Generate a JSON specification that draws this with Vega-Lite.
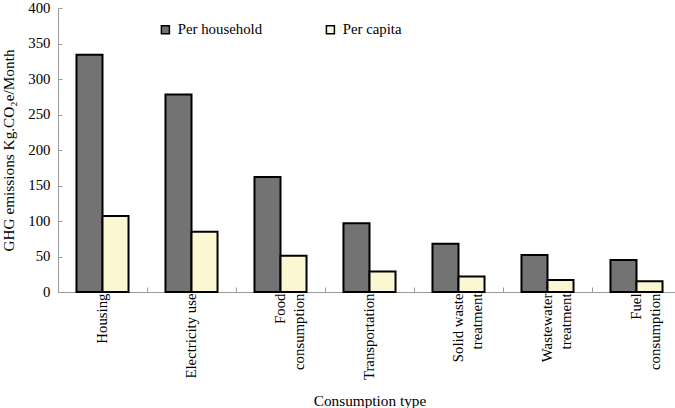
{
  "$schema": "https://vega.github.io/schema/vega-lite/v6.json",
  "width": 617,
  "height": 284,
  "autosize": {"type": "none"},
  "padding": {"left": 58, "top": 8, "right": 0, "bottom": 116},
  "background": "white",
  "config": {
    "font": "Liberation Serif",
    "view": {"stroke": null},
    "axis": {
      "domainColor": "#9a9a9a",
      "tickColor": "#9a9a9a",
      "labelColor": "black",
      "titleColor": "black",
      "labelFont": "Liberation Serif",
      "titleFont": "Liberation Serif",
      "labelFontSize": 14.8,
      "titleFontSize": 15.3,
      "titleFontWeight": "normal",
      "grid": false
    },
    "legend": {
      "labelFont": "Liberation Serif",
      "labelFontSize": 14.8,
      "labelColor": "black"
    }
  },
  "data": {
    "values": [
      {"type": "Housing", "series": "Per household", "value": 334},
      {"type": "Housing", "series": "Per capita", "value": 107},
      {"type": "Electricity use", "series": "Per household", "value": 278},
      {"type": "Electricity use", "series": "Per capita", "value": 85},
      {"type": "Food consumption", "series": "Per household", "value": 162},
      {"type": "Food consumption", "series": "Per capita", "value": 51},
      {"type": "Transportation", "series": "Per household", "value": 97},
      {"type": "Transportation", "series": "Per capita", "value": 29},
      {"type": "Solid waste treatment", "series": "Per household", "value": 68},
      {"type": "Solid waste treatment", "series": "Per capita", "value": 22},
      {"type": "Wastewater treatment", "series": "Per household", "value": 52},
      {"type": "Wastewater treatment", "series": "Per capita", "value": 17},
      {"type": "Fuel consumption", "series": "Per household", "value": 45},
      {"type": "Fuel consumption", "series": "Per capita", "value": 15}
    ]
  },
  "mark": {"type": "bar", "stroke": "black", "strokeWidth": 2},
  "encoding": {
    "x": {
      "field": "type",
      "type": "nominal",
      "sort": null,
      "scale": {"range": [0, 623], "paddingInner": 0, "paddingOuter": 0},
      "axis": {
        "title": "Consumption type",
        "titlePadding": 14,
        "labelAngle": -90,
        "labelAlign": "right",
        "labelBaseline": "middle",
        "labelLineHeight": 19,
        "labelPadding": 6,
        "tickBand": "extent",
        "tickSize": -5,
        "labelExpr": "datum.label == 'Food consumption' ? ['Food\u00a0\u00a0\u00a0\u00a0\u00a0\u00a0', 'consumption'] : datum.label == 'Solid waste treatment' ? ['Solid waste', 'treatment\u00a0\u00a0'] : datum.label == 'Wastewater treatment' ? ['Wastewater', 'treatment\u00a0\u00a0'] : datum.label == 'Fuel consumption' ? ['Fuel\u00a0\u00a0\u00a0\u00a0\u00a0\u00a0\u00a0', 'consumption'] : datum.label"
      }
    },
    "xOffset": {
      "field": "series",
      "sort": ["Per household", "Per capita"],
      "scale": {"paddingOuter": 0.71, "paddingInner": 0}
    },
    "y": {
      "field": "value",
      "type": "quantitative",
      "scale": {"domain": [0, 400], "nice": false},
      "axis": {
        "title": "GHG emissions Kg.CO₂e/Month",
        "values": [0, 50, 100, 150, 200, 250, 300, 350, 400],
        "tickSize": -4,
        "labelPadding": 12,
        "titlePadding": 11
      }
    },
    "fill": {
      "field": "series",
      "type": "nominal",
      "scale": {"domain": ["Per household", "Per capita"], "range": ["#737373", "#fbf7d3"]},
      "legend": {
        "title": null,
        "orient": "none",
        "direction": "horizontal",
        "legendX": 100,
        "legendY": 14,
        "padding": 0,
        "symbolType": "square",
        "symbolSize": 64,
        "symbolStrokeColor": "black",
        "symbolStrokeWidth": 1.5,
        "symbolOpacity": 1,
        "labelOffset": 5,
        "columnPadding": 60
      }
    }
  }
}
